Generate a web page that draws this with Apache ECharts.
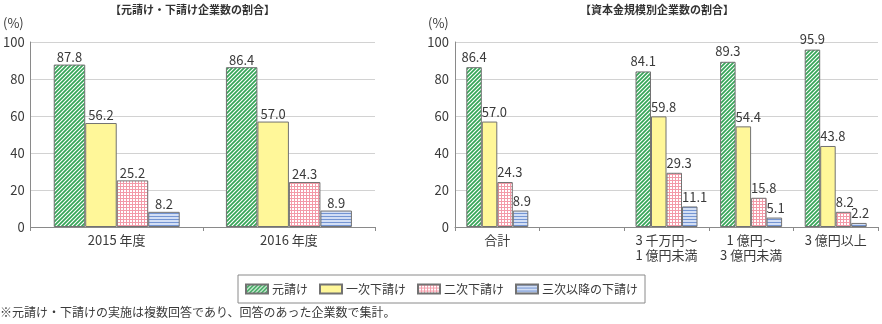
<!DOCTYPE html>
<html>
<head>
<meta charset="utf-8">
<script src="https://cdn.jsdelivr.net/npm/echarts@6/dist/echarts.min.js"></script>
<style>
html,body{margin:0;padding:0;background:#fff;}
#main{width:882px;height:324px;}
</style>
</head>
<body>
<div id="main"></div>
<script>
// ---- data ----
const seriesNames = ['元請け', '一次下請け', '二次下請け', '三次以降の下請け'];
const leftCategories = ['2015 年度', '2016 年度'];
const leftMoto = [87.8, 86.4];
const leftIchiji = [56.2, 57.0];
const leftNiji = [25.2, 24.3];
const leftSanji = [8.2, 8.9];
const rightCategories = ['合計', '', '3 千万円～\n1 億円未満', '1 億円～\n3 億円未満', '3 億円以上'];
const rightMoto = [86.4, '-', 84.1, 89.3, 95.9];
const rightIchiji = [57.0, '-', 59.8, 54.4, 43.8];
const rightNiji = [24.3, '-', 29.3, 15.8, 8.2];
const rightSanji = [8.9, '-', 11.1, 5.1, 2.2];
const yTicks = { min: 0, max: 100, interval: 20 };
const leftTitle = '【元請け・下請け企業数の割合】';
const rightTitle = '【資本金規模別企業数の割合】';
const unitLabel = '(%)';
const footnote = '※元請け・下請けの実施は複数回答であり、回答のあった企業数で集計。';

// ---- patterns ----
function makePattern(w, h, draw) {
  const c = document.createElement('canvas');
  c.width = w; c.height = h;
  const ctx = c.getContext('2d');
  draw(ctx, w, h);
  return { image: c, repeat: 'repeat' };
}
const greenPat = makePattern(4, 4, (ctx) => {
  ctx.fillStyle = '#ffffff'; ctx.fillRect(0, 0, 4, 4);
  ctx.strokeStyle = '#35a557'; ctx.lineWidth = 1.7;
  ctx.beginPath();
  ctx.moveTo(-1, 5); ctx.lineTo(5, -1);
  ctx.moveTo(-3, 3); ctx.lineTo(3, -3);
  ctx.moveTo(1, 7); ctx.lineTo(7, 1);
  ctx.stroke();
});
const pinkPat = makePattern(3, 3, (ctx) => {
  ctx.fillStyle = '#ffffff'; ctx.fillRect(0, 0, 3, 3);
  ctx.fillStyle = '#f39aa8';
  ctx.fillRect(0, 0, 3, 1);
  ctx.fillRect(0, 0, 1, 3);
});
const bluePat = makePattern(3, 3, (ctx) => {
  ctx.fillStyle = '#d3dff5'; ctx.fillRect(0, 0, 3, 3);
  ctx.fillStyle = '#7495d3'; ctx.fillRect(0, 0, 3, 1);
});
const fills = [greenPat, '#fff799', pinkPat, bluePat];

const FONT = "'Noto Sans CJK JP', 'Noto Sans', sans-serif";
const chart = echarts.init(document.getElementById('main'), null, { renderer: 'canvas' });

const fmt = (p) => (typeof p.value === 'number' ? p.value.toFixed(1) : '');

function mkSeries(idx, name, data, gridIdx) {
  const isRight = gridIdx === 1;
  let label;
  if (!isRight || idx === 0) {
    label = { show: true, position: 'top', distance: isRight ? 4 : 1, formatter: fmt,
      color: '#3a3a3a', fontSize: 13, fontFamily: FONT };
  } else {
    label = { show: true, position: [0, -3], align: 'left', verticalAlign: 'bottom', formatter: fmt,
      color: '#3a3a3a', fontSize: 13, fontFamily: FONT };
  }
  return {
    type: 'bar', name: name, data: data,
    xAxisIndex: gridIdx, yAxisIndex: gridIdx,
    barWidth: isRight ? 15.5 : 31.5,
    barGap: '0%',
    itemStyle: { color: fills[idx], borderColor: '#727272', borderWidth: 1 },
    label: label,
    animation: false
  };
}

const leftData = [leftMoto, leftIchiji, leftNiji, leftSanji];
const rightData = [rightMoto, rightIchiji, rightNiji, rightSanji];
const series = [];
seriesNames.forEach((n, i) => series.push(mkSeries(i, n, leftData[i], 0)));
seriesNames.forEach((n, i) => series.push(mkSeries(i, n, rightData[i], 1)));

function yAxis(gi) {
  return {
    type: 'value', gridIndex: gi, min: yTicks.min, max: yTicks.max, interval: yTicks.interval,
    axisLine: { show: true, lineStyle: { color: '#8a8a8a' } },
    axisTick: { show: false },
    axisLabel: { color: '#3a3a3a', fontSize: 13, fontFamily: FONT, margin: 6 },
    splitLine: { lineStyle: { color: '#d2d2d2' } }
  };
}
function xAxis(gi, cats) {
  return {
    type: 'category', gridIndex: gi, data: cats,
    axisLine: { lineStyle: { color: '#8a8a8a' } },
    axisTick: { show: true, length: 4, lineStyle: { color: '#8a8a8a' } },
    axisLabel: { interval: 0, color: '#3a3a3a', fontSize: 13, fontFamily: FONT, margin: 6, lineHeight: 15 }
  };
}

chart.setOption({
  animation: false,
  textStyle: { fontFamily: FONT },
  grid: [
    { left: 30, top: 42, width: 345, height: 185 },
    { left: 455, top: 42, width: 423, height: 185 }
  ],
  xAxis: [xAxis(0, leftCategories), xAxis(1, rightCategories)],
  yAxis: [yAxis(0), yAxis(1)],
  legend: {
    data: seriesNames,
    left: 238, top: 275,
    icon: 'rect', itemWidth: 22, itemHeight: 9, itemGap: 11,
    padding: [8, 7, 8, 7],
    borderColor: '#8a8a8a', borderWidth: 1,
    textStyle: { color: '#3a3a3a', fontSize: 12, fontFamily: FONT, padding: [0, 0, 0, -1] },
    selectedMode: false
  },
  graphic: [
    { type: 'text', left: 110, top: 4, style: { text: leftTitle, fill: '#333', font: "bold 11px 'Noto Sans CJK JP'" } },
    { type: 'text', left: 580, top: 4, style: { text: rightTitle, fill: '#333', font: "bold 11px 'Noto Sans CJK JP'" } },
    { type: 'text', left: 3, top: 17, style: { text: unitLabel, fill: '#3a3a3a', font: "13px 'Noto Sans CJK JP'" } },
    { type: 'text', left: 428, top: 17, style: { text: unitLabel, fill: '#3a3a3a', font: "13px 'Noto Sans CJK JP'" } },
    { type: 'text', left: 0, top: 306, style: { text: footnote, fill: '#3a3a3a', font: "12px 'Noto Sans CJK JP'" } }
  ],
  series: series
});
</script>
</body>
</html>
